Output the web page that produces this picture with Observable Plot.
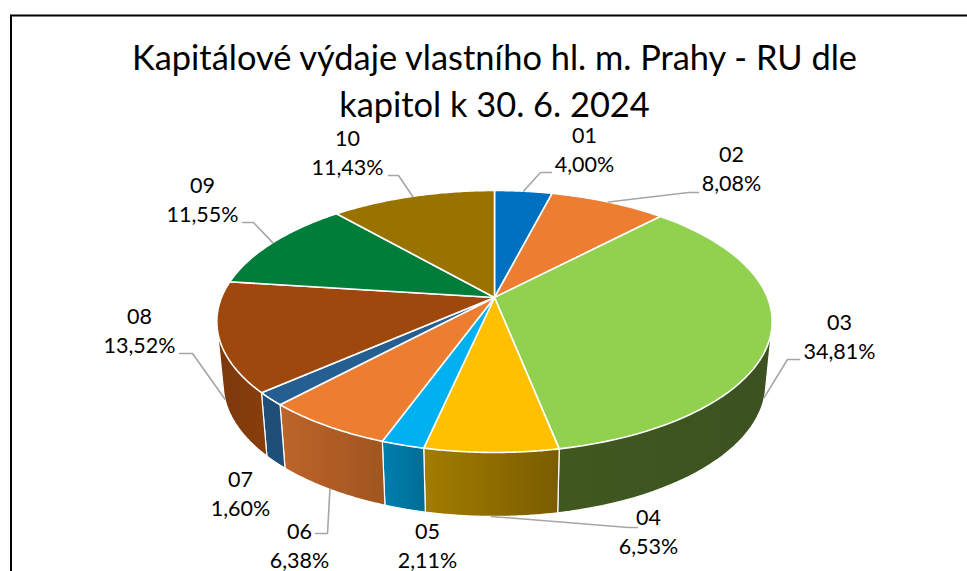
<!DOCTYPE html>
<html>
<head>
<meta charset="utf-8">
<script src="https://cdn.jsdelivr.net/npm/d3@7"></script>
<script src="https://cdn.jsdelivr.net/npm/@observablehq/plot@0.6"></script>
<style>
html,body{margin:0;padding:0;background:#fff;overflow:hidden}
svg{display:block}
</style>
</head>
<body>
<div id="chart"></div>
<script>
// ---- data ----
const titleText = "Kapitálové výdaje vlastního hl. m. Prahy - RU dle\nkapitol k 30. 6. 2024";
const chapters = ["01","02","03","04","05","06","07","08","09","10"];
const shares = [4.00,8.08,34.81,6.53,2.11,6.38,1.60,13.52,11.55,11.43];

// ---- styles ----
const topColors = ["#0070C0","#ED7D31","#92D050","#FFC000","#00B0F0","#ED7D31","#255E91","#9E480E","#007E39","#997300"];
const wallFrom  = ["#0070C0","#ED7D31","#40591f","#a27d00","#007fae","#bd642a","#1f4e79","#7b380b","#007E39","#997300"];
const wallTo    = ["#0070C0","#ED7D31","#3c5121","#7a5c00","#006d95","#a0551f","#1f4e79","#893e0c","#007E39","#997300"];
const labelCx   = [584,731,839,648,427,299,240,139,202,347];
const labelCy   = [148,166.5,334.5,530,544,543.5,492,329,197.5,150.5];
const elbowX    = [540,688,787,628,null,327,null,192,253,398];
const elbowY    = [172,192,359,527,null,533,null,353,222,175];
const tailX     = [551,698,799,637,null,315,null,179,242,388];

// ---- perspective disc ----
const cx = 494, cy = 297, R = 273, A = 126.6, K = 0.183, DEPTH = 62, SHRINK = 0.977;
const total = d3.sum(shares);
function project(deg, lower) {
  const t = deg * Math.PI / 180, u = Math.sin(t), v = -Math.cos(t), w = 1 - K * v;
  const x = R * u / w, y = A * v / w;
  return lower
    ? {x: cx + SHRINK * x, y: cy + y + DEPTH + 2 * v}
    : {x: cx + x, y: cy + y};
}
const cum = d3.cumsum(shares);
const slices = chapters.map((id, i) => ({
  id, i, a0: (i ? cum[i-1] : 0) / total * 360, a1: cum[i] / total * 360,
  label: `${id}\n${shares[i].toFixed(2).replace(".", ",")}%`
}));
const arc = (s, lower) => d3.range(0, 61).map(j => project(s.a0 + (s.a1 - s.a0) * j / 60, lower));

const topPts = slices.flatMap(s => {
  const c = {x: cx, y: cy};
  return [c, ...arc(s, false), c].map(p => ({...p, id: s.id, fill: topColors[s.i]}));
});
const wallSlices = slices.filter(s => s.a1 > 90 && s.a0 < 270);
const wallPts = wallSlices.flatMap(s => {
  // hull of the rim and the lower arc gives the tangent silhouette at the sides
  const hull = d3.polygonHull([...arc(s, false), ...arc(s, true)].map(p => [p.x, p.y]));
  return [...hull, hull[0]].map(([x, y]) => ({x, y, id: s.id, fill: `url(#wall${s.i})`}));
});
const leaderPts = slices.filter(s => elbowX[s.i] != null).flatMap(s => {
  const mid = (s.a0 + s.a1) / 2;
  const front = Math.abs(mid - 180) < 90;
  const start = project(mid, front);
  return [start, {x: elbowX[s.i], y: elbowY[s.i]}, {x: tailX[s.i], y: elbowY[s.i]}].map(p => ({...p, id: s.id}));
});

const gradients = () => {
  const defs = d3.create("svg:defs");
  slices.forEach(s => {
    const g = defs.append("linearGradient").attr("id", `wall${s.i}`).attr("x1", 0).attr("x2", 1).attr("y1", 0).attr("y2", 0);
    g.append("stop").attr("offset", 0).attr("stop-color", wallFrom[s.i]);
    g.append("stop").attr("offset", 1).attr("stop-color", wallTo[s.i]);
  });
  return defs.node();
};

const FONT = "Lato, sans-serif";
const plot = Plot.plot({
  width: 967, height: 571,
  margin: 0,
  style: {background: "#fff", fontFamily: FONT},
  x: {domain: [0, 967], range: [0, 967], axis: null},
  y: {domain: [0, 571], range: [0, 571], axis: null},
  color: {type: "identity"},
  marks: [
    gradients,
    Plot.ruleY([15], {x1: 10, x2: 967, stroke: "#000", strokeWidth: 2}),
    Plot.ruleX([10.5], {y1: 15, y2: 571, stroke: "#000", strokeWidth: 2}),
    Plot.line(wallPts, {x: "x", y: "y", z: "id", fill: "fill", stroke: "#fff", strokeWidth: 1.2, strokeLinejoin: "round"}),
    Plot.line(topPts, {x: "x", y: "y", z: "id", fill: "fill", stroke: "#fff", strokeWidth: 1.6, strokeLinejoin: "round"}),
    Plot.line(leaderPts, {x: "x", y: "y", z: "id", stroke: "#a6a6a6", strokeWidth: 1.6}),
    Plot.text(slices, {x: d => labelCx[d.i], y: d => labelCy[d.i], text: "label", fontSize: 21.5, lineHeight: 29/21.5, fill: "#000", textAnchor: "middle", fontFamily: FONT}),
    Plot.text([titleText], {x: () => 494, y: () => 78, text: d => d, fontSize: 34.4, lineHeight: 47/34.4, fill: "#000", textAnchor: "middle", fontFamily: FONT})
  ]
});
document.getElementById("chart").append(plot);
</script>
</body>
</html>
